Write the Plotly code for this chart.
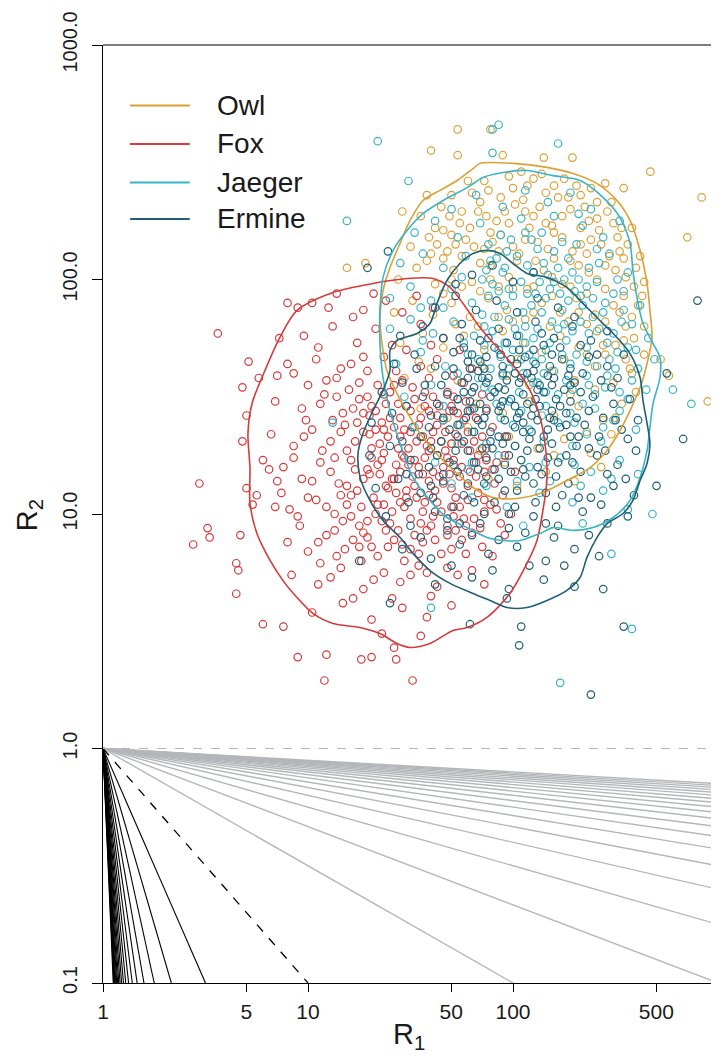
import plotly.graph_objects as go

# ---------------- data (log10 R1, log10 R2) ----------------
fox_pts = [
    (0.56,1.77),(0.90,1.90),(0.95,1.88),(1.02,1.90),(1.10,1.88),(1.14,1.94),(1.22,1.84),(1.32,1.94),
    (0.71,1.65),(0.76,1.58),(0.68,1.54),(0.86,1.75),(0.90,1.64),(0.85,1.59),(0.70,1.42),(0.68,1.31),
    (0.47,1.13),(0.44,0.87),(0.51,0.94),(0.52,0.90),(0.67,0.91),(0.65,0.79),(0.66,0.76),(0.65,0.66),
    (0.78,0.53),(0.88,0.52),(0.95,0.39),(1.09,0.40),(1.08,0.29),(1.26,0.38),(1.31,0.39),(1.43,0.38),
    (1.51,0.29),(1.42,0.43),(0.70,1.11),(0.75,1.08),(0.73,1.04),(0.78,1.23),(0.81,1.19),(0.85,1.14),
    (1.38,1.91),(1.46,1.86),(1.53,1.93),(1.61,1.88),(1.27,1.87),
    (0.98,1.76),(1.12,1.80),(1.24,1.73),(1.33,1.79),(1.41,1.72),(1.55,1.81),(1.66,1.75),(1.74,1.70),(1.05,1.71),
    (0.93,1.60),(1.04,1.66),(1.14,1.58),(1.21,1.64),(1.29,1.61),(1.37,1.67),(1.46,1.57),(1.55,1.63),
    (1.63,1.66),(1.71,1.59),(1.80,1.62),(1.00,1.55),
    (0.84,1.48),(0.97,1.45),(1.08,1.51),(1.17,1.43),(1.25,1.49),(1.33,1.44),(1.40,1.52),(1.48,1.46),
    (1.55,1.41),(1.61,1.50),(1.69,1.44),(1.77,1.48),(1.87,1.45),(1.12,1.40),(1.36,1.39),
    (0.82,1.34),(0.93,1.29),(1.02,1.36),(1.11,1.31),(1.19,1.27),(1.27,1.35),(1.35,1.30),(1.42,1.37),
    (1.49,1.28),(1.56,1.33),(1.63,1.38),(1.70,1.30),(1.78,1.35),(1.87,1.28),(1.96,1.33),(1.45,1.33),
    (1.59,1.27),(1.24,1.39),
    (0.88,1.20),(0.97,1.15),(1.06,1.22),(1.15,1.13),(1.23,1.19),(1.31,1.24),(1.38,1.12),(1.45,1.18),
    (1.52,1.23),(1.59,1.14),(1.66,1.20),(1.74,1.16),(1.82,1.22),(1.91,1.13),(2.01,1.18),(1.48,1.10),
    (1.63,1.25),(1.35,1.17),(1.70,1.11),
    (0.84,1.03),(0.95,0.99),(1.04,1.06),(1.13,1.00),(1.21,1.08),(1.29,0.97),(1.37,1.04),(1.43,1.09),
    (1.50,0.98),(1.57,1.05),(1.65,1.01),(1.72,1.07),(1.81,0.98),(1.89,1.04),(1.99,1.00),(1.55,0.96),
    (1.26,1.03),(1.68,0.95),
    (0.90,0.88),(1.00,0.84),(1.09,0.91),(1.18,0.85),(1.27,0.92),(1.34,0.82),(1.42,0.89),(1.50,0.85),
    (1.58,0.93),(1.65,0.83),(1.75,0.89),(1.85,0.86),(1.96,0.91),(1.47,0.80),
    (0.92,0.74),(1.05,0.70),(1.16,0.77),(1.27,0.68),(1.37,0.75),(1.45,0.71),(1.54,0.78),(1.63,0.69),
    (1.73,0.74),(1.86,0.70),(1.22,0.64),
    (1.02,0.58),(1.17,0.62),(1.31,0.55),(1.46,0.60),(1.58,0.56),(1.70,0.61),(1.36,0.49),(1.55,0.48),
]
fox_pts_core = [
    (1.16,1.62),(1.25,1.56),(1.34,1.55),(1.43,1.61),(1.51,1.54),(1.59,1.58),(1.68,1.52),(1.76,1.56),
    (1.06,1.47),(1.14,1.50),(1.22,1.45),(1.30,1.42),(1.38,1.47),(1.45,1.41),(1.52,1.49),(1.59,1.44),
    (1.66,1.40),(1.73,1.43),(1.82,1.41),
    (0.98,1.33),(1.07,1.27),(1.16,1.35),(1.23,1.31),(1.31,1.28),(1.39,1.33),(1.46,1.25),(1.53,1.31),
    (1.61,1.35),(1.67,1.27),(1.75,1.30),(1.83,1.25),(1.92,1.22),
    (1.02,1.14),(1.11,1.18),(1.19,1.12),(1.27,1.15),(1.34,1.21),(1.41,1.15),(1.49,1.21),(1.56,1.17),
    (1.62,1.10),(1.69,1.17),(1.78,1.12),(1.86,1.18),(1.95,1.08),
    (0.91,1.02),(1.00,1.07),(1.09,1.03),(1.17,0.97),(1.25,0.95),(1.33,1.00),(1.40,0.96),(1.47,1.03),
    (1.53,1.07),(1.61,0.99),(1.70,1.03),(1.77,0.95),(1.86,1.01),(1.94,0.96),
    (1.05,0.88),(1.14,0.82),(1.22,0.89),(1.31,0.86),(1.38,0.93),(1.46,0.87),(1.54,0.83),(1.62,0.89),
    (1.70,0.85),(1.80,0.92),(1.90,0.82),
    (1.11,0.73),(1.32,0.72),(1.50,0.74),(1.68,0.77),(1.80,0.76),(1.41,0.64),(1.60,0.65),
    (1.20,1.53),(1.29,1.50),(1.42,1.55),(1.50,1.44),(1.57,1.52),(1.64,1.46),(1.71,1.50),(1.79,1.44),(1.85,1.51),
    (1.18,1.38),(1.27,1.43),(1.33,1.36),(1.40,1.41),(1.47,1.36),(1.54,1.38),(1.60,1.31),(1.67,1.35),
    (1.74,1.38),(1.81,1.31),(1.90,1.37),
    (1.21,1.23),(1.29,1.19),(1.37,1.26),(1.43,1.21),(1.51,1.16),(1.57,1.24),(1.64,1.16),(1.71,1.23),
    (1.79,1.18),(1.87,1.23),(1.96,1.25),
    (1.19,1.04),(1.24,1.10),(1.32,1.07),(1.39,1.11),(1.45,1.05),(1.52,1.12),(1.59,1.08),(1.66,1.13),
    (1.74,1.03),(1.83,1.09),(1.92,1.02),
    (1.13,0.93),(1.21,0.99),(1.29,0.90),(1.36,0.97),(1.44,0.93),(1.52,0.91),(1.60,0.95),(1.68,0.91),
    (1.76,0.98),(1.84,0.94),
    (0.96,0.95),(0.87,1.09),(0.93,1.24),(0.99,1.40),(1.09,1.57),(1.27,1.67),(1.48,1.70),(1.60,1.72),
    (1.06,0.79),(1.26,0.80),(1.58,0.75),(1.77,0.83),
]
fox_pts_dense = [
    (1.31,1.46),(1.37,1.51),(1.44,1.47),(1.57,1.46),(1.63,1.42),(1.70,1.46),(1.76,1.40),
    (1.30,1.34),(1.37,1.36),(1.44,1.28),(1.50,1.35),(1.58,1.29),(1.65,1.31),(1.72,1.34),(1.79,1.27),(1.85,1.33),
    (1.30,1.17),(1.36,1.23),(1.42,1.15),(1.47,1.24),(1.54,1.20),(1.61,1.18),(1.68,1.24),(1.75,1.20),
    (1.82,1.16),(1.90,1.19),
    (1.34,1.04),(1.41,1.01),(1.48,1.07),(1.56,1.01),(1.63,1.05),(1.71,0.99),(1.78,1.06),(1.86,1.06),
    (1.39,0.86),(1.56,0.88),(1.72,0.93),(1.25,0.86),(1.16,1.08),(1.13,1.24),
]

owl_pts = [
    (1.73,2.64),(1.60,2.55),(1.73,2.53),(1.95,2.53),(2.15,2.52),(2.29,2.52),(2.67,2.46),(2.92,2.35),
    (2.85,2.18),(2.95,1.48),(2.76,1.59),(2.72,1.66),(1.19,2.05),(1.28,2.07),(1.46,2.29),(1.58,2.36),
    (2.45,2.41),(2.54,2.39),(1.89,2.64),
    (1.78,2.42),(1.88,2.38),(1.98,2.44),(2.07,2.40),(2.16,2.37),(2.25,2.43),(2.33,2.36),(1.70,2.36),
    (1.55,2.27),(1.65,2.31),(1.74,2.24),(1.83,2.29),(1.92,2.25),(2.01,2.32),(2.10,2.27),(2.19,2.23),
    (2.28,2.30),(2.37,2.25),(2.46,2.29),(2.53,2.22),
    (1.50,2.14),(1.59,2.18),(1.68,2.12),(1.77,2.17),(1.86,2.13),(1.94,2.19),(2.03,2.11),(2.12,2.16),
    (2.20,2.20),(2.29,2.12),(2.38,2.17),(2.47,2.10),(2.56,2.15),(2.08,2.22),
    (1.44,2.00),(1.53,2.05),(1.62,1.98),(1.71,2.04),(1.80,1.99),(1.89,2.06),(1.98,2.01),(2.07,1.96),
    (2.15,2.04),(2.24,1.98),(2.32,2.06),(2.41,2.00),(2.50,2.04),(2.59,1.97),(2.02,2.08),
    (1.42,1.86),(1.51,1.91),(1.61,1.85),(1.70,1.90),(1.79,1.84),(1.88,1.92),(1.97,1.87),(2.06,1.83),
    (2.14,1.90),(2.23,1.86),(2.31,1.92),(2.40,1.85),(2.49,1.89),(2.58,1.84),(2.63,1.93),
    (1.45,1.73),(1.56,1.77),(1.66,1.71),(1.76,1.76),(1.86,1.70),(1.95,1.78),(2.05,1.73),(2.14,1.69),
    (2.23,1.76),(2.32,1.71),(2.41,1.78),(2.50,1.72),(2.59,1.75),(2.64,1.68),
    (1.47,1.58),(1.60,1.62),(1.73,1.57),(1.85,1.63),(1.97,1.59),(2.08,1.55),(2.19,1.61),(2.30,1.57),
    (2.40,1.63),(2.49,1.56),(2.58,1.60),
    (1.55,1.45),(1.68,1.41),(1.82,1.47),(1.95,1.43),(2.08,1.48),(2.20,1.42),(2.32,1.46),(2.44,1.40),(2.53,1.47),
    (1.70,1.30),(1.84,1.27),(1.98,1.33),(2.12,1.28),(2.25,1.32),(2.38,1.26),(2.48,1.34),
    (1.88,1.15),(2.02,1.12),(2.16,1.18),(2.30,1.14),(2.43,1.20),
]
owl_pts_core = [
    (1.84,2.33),(1.94,2.35),(2.05,2.34),(2.13,2.31),(2.22,2.35),(2.31,2.40),(2.41,2.33),(1.62,2.22),
    (1.70,2.19),(1.79,2.22),(1.89,2.20),(1.98,2.24),(2.06,2.17),(2.16,2.24),(2.24,2.18),(2.33,2.22),
    (2.42,2.21),(2.51,2.18),
    (1.58,2.08),(1.66,2.09),(1.75,2.10),(1.84,2.07),(1.93,2.12),(2.11,2.08),(2.20,2.09),(2.28,2.08),
    (2.36,2.11),(2.45,2.06),(2.54,2.09),(2.60,2.05),
    (1.66,1.94),(1.75,1.97),(1.84,1.95),(1.93,1.97),(2.10,1.97),(2.19,1.93),(2.28,1.97),(2.36,1.94),
    (2.45,1.96),(2.54,1.93),(2.61,1.89),
    (1.72,1.81),(1.83,1.80),(2.00,1.82),(2.18,1.80),(2.27,1.82),(2.36,1.81),(2.45,1.82),(2.55,1.80),
    (2.02,1.66),(2.25,1.66),(2.36,1.68),(2.45,1.68),(2.55,1.66),(2.28,1.51),(2.40,1.53),
    (1.80,2.37),(2.00,2.39),(2.10,2.43),(2.20,2.40),(2.38,2.39),
    (1.69,2.27),(1.87,2.27),(1.96,2.29),(2.06,2.29),(2.24,2.27),(2.41,2.26),(2.49,2.24),
    (1.63,2.15),(1.72,2.15),(1.81,2.14),(1.90,2.16),(2.00,2.14),(2.17,2.13),(2.33,2.15),(2.43,2.15),(2.52,2.12),
    (1.70,2.00),(1.89,2.00),(2.00,1.96),(2.19,2.01),(2.37,2.03),(2.55,2.01),
    (1.93,1.84),(2.10,1.86),(2.32,1.86),(2.52,1.86),(2.44,1.72),(2.54,1.74),(2.57,1.62),
]
owl_pts_dense = [
    (1.86,2.42),(2.04,2.46),(2.14,2.45),(2.27,2.35),(2.35,2.31),(1.75,2.29),(1.60,2.11),(1.66,2.21),
    (2.48,2.33),(2.58,2.22),(2.62,2.10),(2.64,1.99),(2.64,1.80),(2.60,1.52),(2.50,1.41),(2.36,1.35),
    (2.20,1.25),(1.96,1.22),(1.78,1.37),(1.54,1.65),
]

jaeger_pts = [
    (1.93,2.66),(1.90,2.64),(2.22,2.58),(1.90,2.54),(1.49,2.42),(1.19,2.25),(2.87,1.47),(2.68,1.00),
    (2.48,0.83),(2.58,0.51),(2.23,0.28),(1.34,2.59),(1.12,1.39),(1.60,0.60),(2.78,1.53),
    (1.82,2.36),(1.95,2.31),(2.06,2.38),(2.17,2.33),(2.28,2.37),(2.38,2.30),(1.70,2.30),
    (1.52,2.20),(1.62,2.25),(1.73,2.18),(1.84,2.24),(1.94,2.19),(2.04,2.26),(2.14,2.20),(2.24,2.16),
    (2.34,2.23),(2.44,2.18),(2.52,2.25),
    (1.45,2.07),(1.56,2.11),(1.66,2.05),(1.77,2.10),(1.87,2.04),(1.97,2.12),(2.07,2.06),(2.17,2.02),
    (2.27,2.09),(2.37,2.05),(2.47,2.11),(2.56,2.03),(1.92,2.09),(2.12,2.13),
    (1.40,1.92),(1.50,1.97),(1.60,1.91),(1.70,1.96),(1.80,1.90),(1.90,1.98),(2.00,1.93),(2.09,1.89),
    (2.18,1.96),(2.27,1.91),(2.36,1.97),(2.45,1.90),(2.54,1.95),(2.62,1.89),(2.04,1.99),(2.23,1.94),
    (1.40,1.79),(1.50,1.83),(1.61,1.77),(1.71,1.82),(1.81,1.76),(1.91,1.84),(2.01,1.79),(2.10,1.75),
    (2.19,1.82),(2.29,1.78),(2.39,1.84),(2.49,1.77),(2.58,1.81),(2.66,1.75),(2.14,1.86),(1.96,1.73),
    (1.43,1.64),(1.55,1.69),(1.67,1.63),(1.78,1.68),(1.89,1.62),(2.00,1.70),(2.10,1.65),(2.20,1.61),
    (2.31,1.68),(2.41,1.63),(2.51,1.69),(2.61,1.62),(2.69,1.66),(2.05,1.60),
    (1.47,1.50),(1.60,1.55),(1.73,1.49),(1.86,1.54),(1.98,1.48),(2.10,1.56),(2.22,1.51),(2.34,1.47),
    (2.45,1.54),(2.56,1.49),(2.65,1.53),
    (1.52,1.37),(1.66,1.40),(1.80,1.35),(1.94,1.41),(2.08,1.36),(2.22,1.39),(2.36,1.34),(2.49,1.40),(2.60,1.36),
    (1.62,1.22),(1.78,1.19),(1.93,1.25),(2.08,1.20),(2.23,1.24),(2.38,1.18),(2.52,1.23),(2.61,1.17),
    (1.80,1.07),(1.97,1.03),(2.13,1.09),(2.29,1.05),(2.44,1.10),(2.56,1.02),
    (2.05,0.95),(2.34,0.96),
]
jaeger_pts_core = [
    (1.88,2.15),(1.99,2.17),(2.09,2.17),(2.20,2.12),(2.31,2.15),(2.41,2.13),
    (1.85,2.00),(1.95,2.03),(2.13,1.99),(2.22,2.05),(2.32,2.00),(2.41,1.99),(2.51,2.00),(1.75,2.01),
    (1.85,1.85),(1.96,1.89),(2.05,1.86),(2.24,1.87),(2.34,1.89),(2.44,1.86),(2.54,1.87),(1.66,1.88),(1.55,1.88),
    (1.76,1.73),(1.86,1.72),(2.06,1.73),(2.16,1.70),(2.26,1.74),(2.36,1.71),(2.46,1.73),(2.56,1.71),(1.56,1.74),
    (1.73,1.60),(1.83,1.58),(1.95,1.59),(2.15,1.60),(2.26,1.57),(2.36,1.59),(2.46,1.59),(2.58,1.57),
    (1.66,1.46),(1.80,1.45),(1.92,1.47),(2.04,1.44),(2.16,1.46),(2.28,1.43),(2.40,1.45),(2.52,1.44),
    (1.73,1.30),(1.87,1.30),(2.01,1.29),(2.15,1.31),(2.29,1.29),(2.43,1.31),
    (1.70,1.13),(1.87,1.12),(2.02,1.14),(2.18,1.14),(2.33,1.12),(2.48,1.15),
    (1.89,2.08),(2.02,2.10),(2.15,2.07),(2.29,2.03),(2.42,2.07),
    (1.93,1.95),(2.07,1.94),(2.16,1.92),(2.30,1.95),(2.39,1.92),(2.49,1.94),
    (1.86,1.80),(1.98,1.83),(2.06,1.80),(2.22,1.79),(2.33,1.82),(2.42,1.79),(2.53,1.82),
    (1.83,1.66),(1.94,1.67),(2.04,1.66),(2.14,1.66),(2.24,1.68),(2.36,1.65),(2.47,1.66),
    (1.90,1.53),(2.03,1.52),(2.16,1.52),(2.29,1.53),(2.40,1.51),(2.52,1.52),
    (1.74,1.38),(2.00,1.38),(2.14,1.42),(2.30,1.39),(2.44,1.37),
    (1.80,1.22),(2.16,1.22),(2.30,1.21),
]
jaeger_pts_dense = [
    (1.88,1.93),(1.98,1.96),(2.11,1.94),(2.20,1.99),(2.33,1.93),(1.90,1.78),(2.03,1.76),(2.12,1.79),
    (2.25,1.81),(2.37,1.77),(1.96,2.05),(2.10,2.03),(2.25,2.00),(1.93,1.70),(2.08,1.68),(2.18,1.73),
    (2.28,1.64),(2.12,1.56),(1.98,1.62),(2.37,1.55),(2.50,1.62),(2.60,1.70),(2.06,2.20),(2.20,2.27),(2.32,2.28),
]

ermine_pts = [
    (1.39,2.12),(1.29,2.05),(2.90,1.91),(2.83,1.32),(2.54,0.52),(2.38,0.23),(2.04,0.52),(1.97,0.64),
    (2.03,0.44),(1.79,0.53),(2.70,1.12),(2.75,1.60),(2.44,0.68),(1.25,0.80),(1.40,0.62),
    (1.80,2.02),(1.90,2.06),(2.00,1.99),(2.10,2.03),(1.72,1.98),
    (1.62,1.88),(1.72,1.93),(1.82,1.87),(1.92,1.91),(2.02,1.86),(2.12,1.92),(2.22,1.88),(2.30,1.84),
    (1.45,1.76),(1.56,1.80),(1.66,1.75),(1.75,1.81),(1.84,1.74),(1.93,1.79),(2.02,1.76),(2.11,1.82),
    (2.20,1.75),(2.29,1.80),(2.38,1.74),(2.46,1.78),
    (1.42,1.64),(1.52,1.68),(1.62,1.63),(1.71,1.69),(1.79,1.62),(1.87,1.67),(1.95,1.63),(2.03,1.70),
    (2.11,1.64),(2.19,1.68),(2.28,1.62),(2.37,1.67),(2.46,1.63),(2.54,1.68),(1.91,1.71),(2.07,1.60),
    (1.36,1.52),(1.46,1.56),(1.56,1.50),(1.65,1.55),(1.73,1.49),(1.81,1.54),(1.89,1.50),(1.97,1.57),
    (2.05,1.51),(2.13,1.55),(2.21,1.49),(2.30,1.56),(2.39,1.50),(2.48,1.54),(2.57,1.49),(1.85,1.58),
    (2.01,1.46),(2.17,1.59),
    (1.31,1.39),(1.41,1.43),(1.51,1.37),(1.60,1.42),(1.69,1.36),(1.77,1.41),(1.85,1.38),(1.93,1.44),
    (2.01,1.37),(2.09,1.42),(2.17,1.36),(2.26,1.43),(2.35,1.38),(2.44,1.41),(2.53,1.36),(2.61,1.40),
    (1.81,1.45),(1.97,1.33),(2.13,1.46),
    (1.30,1.25),(1.40,1.29),(1.50,1.23),(1.60,1.28),(1.69,1.22),(1.78,1.27),(1.87,1.24),(1.95,1.30),
    (2.04,1.23),(2.13,1.28),(2.22,1.22),(2.31,1.29),(2.41,1.25),(2.51,1.21),(2.60,1.27),(1.91,1.19),(2.08,1.32),
    (1.33,1.11),(1.44,1.15),(1.55,1.09),(1.66,1.14),(1.76,1.08),(1.86,1.13),(1.96,1.10),(2.06,1.16),
    (2.16,1.09),(2.27,1.13),(2.38,1.07),(2.49,1.12),(2.59,1.08),
    (1.38,0.99),(1.50,0.95),(1.62,1.01),(1.74,0.96),(1.86,1.00),(1.98,0.94),(2.10,0.99),(2.22,0.95),
    (2.34,1.01),(2.46,0.96),(2.56,0.99),
    (1.46,0.85),(1.60,0.81),(1.74,0.87),(1.88,0.83),(2.02,0.86),(2.16,0.80),(2.30,0.85),(2.42,0.82),
    (1.62,0.70),(1.80,0.73),(1.98,0.68),(2.15,0.72),(2.30,0.69),
]
ermine_pts_core = [
    (1.76,1.71),(1.84,1.65),(1.99,1.66),(2.15,1.72),(2.24,1.66),(2.33,1.72),(1.67,1.59),(1.75,1.56),
    (1.83,1.61),(1.93,1.54),(2.01,1.60),(2.09,1.58),(2.25,1.53),(2.34,1.60),(2.43,1.57),
    (1.63,1.47),(1.71,1.44),(1.79,1.48),(1.87,1.44),(1.95,1.48),(2.03,1.43),(2.11,1.49),(2.19,1.44),
    (2.28,1.48),(2.37,1.44),(2.49,1.47),
    (1.55,1.33),(1.65,1.31),(1.73,1.33),(1.81,1.35),(1.89,1.31),(2.05,1.35),(2.15,1.33),(2.23,1.37),
    (2.32,1.33),(2.42,1.33),(2.56,1.32),
    (1.48,1.17),(1.59,1.20),(1.73,1.18),(1.83,1.19),(1.99,1.18),(2.12,1.20),(2.21,1.16),(2.33,1.18),
    (2.46,1.17),(2.55,1.15),
    (1.49,1.05),(1.61,1.07),(1.71,1.03),(1.81,1.05),(1.91,1.05),(2.01,1.03),(2.11,1.05),(2.21,1.03),
    (2.32,1.07),(2.43,1.04),
    (1.55,0.90),(1.68,0.93),(1.80,0.91),(1.93,0.89),(2.06,0.92),(2.20,0.90),(2.37,0.91),(1.70,0.78),
    (1.90,0.76),(2.08,0.78),(2.25,0.78),
    (1.74,1.75),(1.80,1.68),(1.88,1.75),(1.97,1.73),(2.06,1.67),(2.14,1.77),(2.23,1.71),
    (1.71,1.62),(1.78,1.58),(1.87,1.56),(1.95,1.60),(2.03,1.56),(2.10,1.61),(2.19,1.55),(2.27,1.59),
    (1.68,1.51),(1.76,1.52),(1.84,1.47),(1.91,1.52),(1.99,1.49),(2.07,1.47),(2.15,1.52),(2.23,1.46),(2.33,1.52),
    (1.66,1.41),(1.73,1.38),(1.83,1.40),(1.89,1.35),(1.96,1.40),(2.05,1.39),(2.12,1.40),(2.20,1.40),(2.31,1.41),
    (1.63,1.25),(1.72,1.27),(1.81,1.22),(1.90,1.28),(1.98,1.25),(2.07,1.27),(2.17,1.24),(2.26,1.25),(2.37,1.28),
    (1.66,1.17),(1.78,1.13),(1.93,1.15),(2.02,1.10),(2.10,1.13),(2.24,1.08),(2.45,1.27),(2.50,1.40),
    (2.51,1.58),(2.41,1.68),(1.53,1.62),(1.48,1.46),(1.46,1.31),(1.54,1.17),
]
ermine_pts_dense = [
    (1.78,1.65),(1.86,1.62),(1.94,1.68),(2.02,1.64),(2.10,1.70),(2.18,1.63),
    (1.80,1.52),(1.88,1.58),(1.96,1.53),(2.04,1.58),(2.12,1.53),(2.20,1.58),(2.28,1.55),
    (1.78,1.44),(1.86,1.41),(1.94,1.46),(2.02,1.41),(2.10,1.45),(2.18,1.41),(2.26,1.38),
    (1.76,1.31),(1.85,1.28),(1.93,1.33),(2.01,1.29),(2.09,1.35),(2.19,1.30),(2.28,1.33),
    (1.71,1.21),(1.87,1.16),(1.96,1.21),(2.05,1.19),(2.14,1.17),(2.29,1.22),
    (1.59,1.37),(1.57,1.55),(1.60,1.12),(1.68,0.98),(1.84,0.96),(1.98,1.00),(2.16,0.96),
]

# density contour outlines (log10 R1, log10 R2)
fox_contour = [
    (1.610,2.004),(1.693,1.966),(1.756,1.898),(1.839,1.795),(1.937,1.697),(2.020,1.612),(2.083,1.527),
    (2.132,1.412),(2.156,1.301),(2.166,1.156),(2.146,1.015),(2.117,0.887),(2.068,0.789),(1.985,0.661),
    (1.873,0.559),(1.776,0.516),(1.707,0.503),(1.595,0.448),(1.498,0.431),(1.434,0.448),(1.351,0.490),
    (1.254,0.516),(1.122,0.533),(1.024,0.576),(0.946,0.644),(0.878,0.716),(0.815,0.802),(0.751,0.917),
    (0.717,1.045),(0.717,1.198),(0.707,1.343),(0.727,1.471),(0.790,1.612),(0.863,1.753),(0.946,1.868),
    (1.122,1.945),(1.317,1.983),(1.483,2.004),(1.610,2.004),
]
owl_contour = [
    (1.839,2.495),(2.000,2.495),(2.166,2.478),(2.293,2.452),(2.410,2.409),(2.507,2.337),(2.571,2.252),
    (2.620,2.124),(2.654,1.983),(2.668,1.868),(2.678,1.753),(2.654,1.642),(2.620,1.539),(2.571,1.441),
    (2.522,1.356),(2.459,1.271),(2.376,1.198),(2.263,1.143),(2.132,1.087),(2.020,1.066),(1.902,1.070),
    (1.805,1.113),(1.727,1.173),(1.644,1.241),(1.561,1.326),(1.498,1.412),(1.434,1.514),(1.385,1.612),
    (1.361,1.727),(1.351,1.838),(1.366,1.953),(1.400,2.051),(1.449,2.154),(1.498,2.252),(1.561,2.337),
    (1.644,2.380),(1.727,2.422),(1.805,2.473),(1.839,2.495),
]
jaeger_contour = [
    (1.951,2.456),(2.068,2.465),(2.195,2.443),(2.327,2.422),(2.439,2.350),(2.522,2.264),(2.571,2.154),
    (2.585,2.038),(2.605,1.923),(2.634,1.812),(2.683,1.727),(2.717,1.667),(2.717,1.582),(2.683,1.471),
    (2.668,1.369),(2.654,1.271),(2.620,1.156),(2.571,1.058),(2.488,0.985),(2.390,0.942),(2.293,0.930),
    (2.195,0.942),(2.132,0.917),(2.034,0.887),(1.951,0.887),(1.873,0.900),(1.776,0.942),(1.678,0.985),
    (1.595,1.058),(1.512,1.156),(1.449,1.301),(1.400,1.441),(1.366,1.582),(1.351,1.727),(1.351,1.868),
    (1.366,2.009),(1.415,2.124),(1.483,2.209),(1.561,2.281),(1.659,2.337),(1.776,2.392),(1.854,2.435),
    (1.951,2.456),
]
ermine_contour = [
    (1.873,2.124),(1.937,2.111),(2.000,2.068),(2.068,2.026),(2.166,2.009),(2.263,1.966),(2.341,1.898),
    (2.424,1.825),(2.507,1.753),(2.571,1.684),(2.620,1.582),(2.634,1.484),(2.654,1.386),(2.668,1.301),
    (2.654,1.215),(2.620,1.143),(2.585,1.058),(2.537,1.002),(2.459,0.959),(2.410,0.900),(2.361,0.815),
    (2.327,0.729),(2.263,0.674),(2.166,0.631),(2.068,0.601),(1.971,0.601),(1.888,0.631),(1.805,0.661),
    (1.693,0.704),(1.595,0.759),(1.512,0.832),(1.449,0.900),(1.366,0.972),(1.302,1.058),(1.254,1.156),
    (1.244,1.258),(1.268,1.343),(1.317,1.441),(1.366,1.527),(1.400,1.612),(1.400,1.697),(1.434,1.740),
    (1.532,1.770),(1.595,1.812),(1.629,1.898),(1.678,1.996),(1.741,2.068),(1.805,2.111),(1.873,2.124),
]

groups = ["Owl", "Fox", "Jaeger", "Ermine"]
colors = {"Owl": "#DBA036", "Fox": "#D63A3A", "Jaeger": "#38B4C8", "Ermine": "#1D5F75"}
points = {"Owl": owl_pts + owl_pts_core + owl_pts_dense,
          "Fox": fox_pts + fox_pts_core + fox_pts_dense,
          "Jaeger": jaeger_pts + jaeger_pts_core + jaeger_pts_dense,
          "Ermine": ermine_pts + ermine_pts_core + ermine_pts_dense}
contours = {"Owl": owl_contour, "Fox": fox_contour, "Jaeger": jaeger_contour, "Ermine": ermine_contour}

steep_exponents = [2, 3, 4, 5, 6, 7, 8, 9, 10, 11, 12, 13, 14, 15, 16, 17, 18, 19, 20]
shallow_divisors = [2, 3, 4, 5, 6, 7, 8, 9, 10, 11, 12, 13, 14, 15, 16, 17, 18, 19, 20]
x_ticks = [1, 5, 10, 50, 100, 500]
x_ticktext = ["1", "5", "10", "50", "100", "500"]
y_ticks = [0.1, 1, 10, 100, 1000]
y_ticktext = ["0.1", "1.0", "10.0", "100.0", "1000.0"]

X_MIN, X_MAX, Y_MIN = 1.0, 1000.0, 0.1

fig = go.Figure()

# reference power-law lines through (1,1)
for k in shallow_divisors:
    fig.add_trace(go.Scatter(x=[X_MIN, X_MAX], y=[1.0, X_MAX ** (-1.0 / k)], mode="lines",
                             line=dict(color="#B4B6BA", width=1.4), showlegend=False, hoverinfo="skip"))
for k in steep_exponents:
    fig.add_trace(go.Scatter(x=[X_MIN, Y_MIN ** (-1.0 / k)], y=[1.0, Y_MIN], mode="lines",
                             line=dict(color="black", width=1.1), showlegend=False, hoverinfo="skip"))
fig.add_trace(go.Scatter(x=[X_MIN, 1.0 / Y_MIN], y=[1.0, Y_MIN], mode="lines",
                         line=dict(color="black", width=1.3, dash="dash"), showlegend=False, hoverinfo="skip"))
fig.add_trace(go.Scatter(x=[X_MIN, X_MAX], y=[1.0, 1.0], mode="lines",
                         line=dict(color="#B4B6BA", width=1.2, dash="dash"), showlegend=False, hoverinfo="skip"))

# scatter points
for g in groups:
    pts = points[g]
    fig.add_trace(go.Scatter(
        x=[10 ** p[0] for p in pts], y=[10 ** p[1] for p in pts], mode="markers",
        marker=dict(symbol="circle-open", size=7.5, color=colors[g], line=dict(width=1.2, color=colors[g])),
        showlegend=False, name=g))

# contours
for g in groups:
    c = contours[g]
    fig.add_trace(go.Scatter(
        x=[10 ** p[0] for p in c], y=[10 ** p[1] for p in c], mode="lines",
        line=dict(color=colors[g], width=1.6, shape="spline", smoothing=0.8),
        showlegend=False, name=g + " contour"))

font_family = "Liberation Sans, Arial, sans-serif"

# manual legend (R-style)
leg_y = [0.9355, 0.8945, 0.8534, 0.8145]
shapes = []
annotations = []
for g, yy in zip(groups, leg_y):
    shapes.append(dict(type="line", xref="paper", yref="paper", x0=0.044, x1=0.141, y0=yy, y1=yy,
                       line=dict(color=colors[g], width=2)))
    annotations.append(dict(xref="paper", yref="paper", x=0.182, y=yy, text=g, showarrow=False,
                            xanchor="left", yanchor="middle",
                            font=dict(family=font_family, size=28, color="#1a1a1a")))
# top border line
shapes.append(dict(type="line", xref="paper", yref="paper", x0=0, x1=1, y0=1, y1=1,
                   line=dict(color="black", width=1.2)))

# axis titles
annotations.append(dict(xref="paper", yref="paper", x=0.498, y=-0.057, text="R<sub>1</sub>",
                        showarrow=False, xanchor="center", yanchor="middle",
                        font=dict(family=font_family, size=29, color="#1a1a1a")))
annotations.append(dict(xref="paper", yref="paper", x=-0.12, y=0.499, text="R<sub>2</sub>",
                        showarrow=False, xanchor="center", yanchor="middle", textangle=-90,
                        font=dict(family=font_family, size=29, color="#1a1a1a")))

# the page body adds an 8px margin, so the figure is sized to fit the window
fig.update_layout(
    width=711, height=1049,
    margin=dict(l=95, r=1, t=37, b=74),
    plot_bgcolor="white", paper_bgcolor="white",
    shapes=shapes, annotations=annotations,
    showlegend=False,
    font=dict(family=font_family, color="#1a1a1a"),
    xaxis=dict(type="log", range=[0, 3], tickvals=x_ticks, ticktext=x_ticktext, automargin=False,
               ticks="outside", ticklen=8, tickwidth=1.2, tickcolor="black", ticklabelstandoff=2,
               showline=True, linecolor="black", linewidth=1.2, showgrid=False, zeroline=False,
               tickfont=dict(size=21, family=font_family, color="#1a1a1a")),
    yaxis=dict(type="log", range=[-1, 3], tickvals=y_ticks, ticktext=y_ticktext, tickangle=-90,
               automargin=False, ticklabelstandoff=7,
               ticks="outside", ticklen=10, tickwidth=1.2, tickcolor="black",
               showline=True, linecolor="black", linewidth=1.2, showgrid=False, zeroline=False,
               tickfont=dict(size=20, family=font_family, color="#1a1a1a")),
)

fig.write_html("out.html")
